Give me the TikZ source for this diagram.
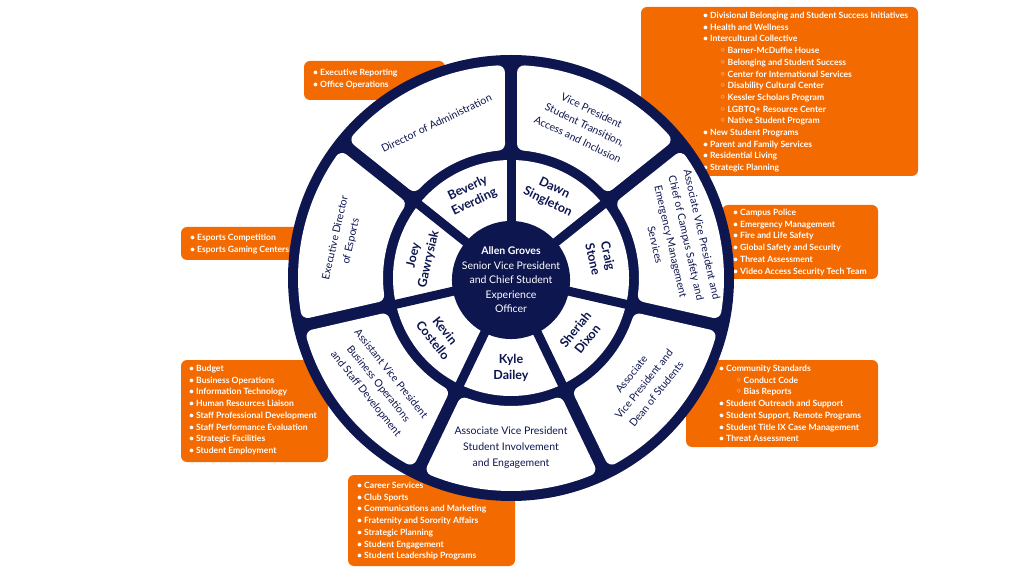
\documentclass[tikz,border=0pt]{standalone}
\usepackage{fontspec}
\setmainfont{Lato}
\newfontfamily\dejavu{DejaVu Sans}
\definecolor{navy}{RGB}{14,22,80}
\definecolor{uvaorange}{RGB}{242,106,0}
\newcommand{\bl}{•\hspace{2pt}}
\newcommand{\sbl}{\hspace*{17pt}{\dejavu ◦}\hspace{2pt}}
\begin{document}
\begin{tikzpicture}[x=1pt,y=1pt,
  box/.style={fill=uvaorange, rounded corners=6pt},
  list/.style={anchor=north west, inner sep=0pt, align=left, text=white, font=\fontsize{8.6}{11.7}\selectfont\bfseries},
  title/.style={text=navy, align=center, inner sep=0pt, font=\fontsize{10.5}{16}\selectfont},
  pname/.style={text=navy, align=center, inner sep=0pt, font=\fontsize{12.5}{15.5}\selectfont\bfseries},
  seg/.style={fill=white, draw=white, line width=14pt, line join=round},
  divider/.style={draw=navy, line width=9pt}]
\useasboundingbox (0,0) rectangle (1024,576);
\fill[white] (0,0) rectangle (1024,576);
% orange boxes
\fill[box] (641,569) rectangle (918,400);
\fill[box] (304,515) rectangle (445,476);
\fill[box] (181,349) rectangle (320,316);
\fill[box] (722,371) rectangle (878,297);
\fill[box] (181,216) rectangle (328,114);
\fill[box] (686,216) rectangle (878,129);
\fill[box] (348,101) rectangle (515,10);
\node[list] (l1) at (703,564) {\bl Divisional Belonging and Student Success Initiatives\\
\bl Health and Wellness\\
\bl Intercultural Collective\\
\sbl Barner-McDuffie House\\
\sbl Belonging and Student Success\\
\sbl Center for International Services\\
\sbl Disability Cultural Center\\
\sbl Kessler Scholars Program\\
\sbl LGBTQ+ Resource Center\\
\sbl Native Student Program\\
\bl New Student Programs\\
\bl Parent and Family Services\\
\bl Residential Living\\
\bl Strategic Planning};
\node[list] (l2) at (313,507) {\bl Executive Reporting\\ \bl Office Operations};
\node[list] (l3) at (190,342) {\bl Esports Competition\\ \bl Esports Gaming Centers};
\node[list] (l4) at (733,367) {\bl Campus Police\\
\bl Emergency Management\\
\bl Fire and Life Safety\\
\bl Global Safety and Security\\
\bl Threat Assessment\\
\bl Video Access Security Tech Team};
\node[list] (l5) at (189,211) {\bl Budget\\
\bl Business Operations\\
\bl Information Technology\\
\bl Human Resources Liaison\\
\bl Staff Professional Development\\
\bl Staff Performance Evaluation\\
\bl Strategic Facilities\\
\bl Student Employment};
\node[list] (l6) at (719,211) {\bl Community Standards\\
\sbl Conduct Code\\
\sbl Bias Reports\\
\bl Student Outreach and Support\\
\bl Student Support, Remote Programs\\
\bl Student Title IX Case Management\\
\bl Threat Assessment};
\node[list] (l7) at (357,94) {\bl Career Services\\
\bl Club Sports\\
\bl Communications and Marketing\\
\bl Fraternity and Sorority Affairs\\
\bl Strategic Planning\\
\bl Student Engagement\\
\bl Student Leadership Programs};
% wheel
\begin{scope}[shift={(511,298)}]
\fill[navy] (0,0) circle[radius=223pt];
\foreach \k in {0,...,6}{
  \pgfmathsetmacro{\da}{90+\k*360/7}
  \pgfmathsetmacro{\db}{\da+360/7}
  \path[seg] (\da+3.64:206pt) arc[start angle=\da+3.64, end angle=\db-3.64, radius=206pt]
    -- (\db-5.53:135pt) arc[start angle=\db-5.53, end angle=\da+5.53, radius=135pt] -- cycle;
}
\fill[white] (0,0) circle[radius=118pt];
\foreach \k in {0,...,6}{
  \draw[divider] (90+\k*360/7:50pt) -- (90+\k*360/7:123pt);
}
\node[circle, fill=navy, minimum size=112pt, inner sep=0pt, text=white, align=center,
  font=\fontsize{10.5}{14.5}\selectfont] (ceo) at (0,-2)
  {\textbf{Allen Groves}\\Senior Vice President\\and Chief Student\\Experience\\Officer};
% names
\node[pname, rotate=25.7] (bev) at (115.7:92pt) {Beverly\\Everding};
\node[pname, rotate=77.1] (joey) at (167.1:92pt) {Joey\\Gawrysiak};
\node[pname, rotate=-51.4] (kevin) at (218.6:92pt) {Kevin\\Costello};
\node[pname] (kyle) at (270:90pt) {Kyle\\Dailey};
\node[pname, rotate=51.4] (sheriah) at (321.4:90pt) {Sheriah\\Dixon};
\node[pname, rotate=-77.1] (craig) at (12.9:92pt) {Craig\\Stone};
\node[pname, rotate=-25.7] (dawn) at (64.3:92pt) {Dawn\\Singleton};
% titles
\node[title, rotate=25.7] (t1) at (115.7:172pt) {Director of Administration};
\node[title, rotate=77.1] (t2) at (167.1:172pt) {Executive Director\\of Esports};
\node[title, rotate=-51.4] (t3) at (218.6:170pt) {Assistant Vice President\\Business Operations\\and Staff Development};
\node[title] (t4) at (270:170pt) {Associate Vice President\\Student Involvement\\and Engagement};
\node[title, rotate=51.4] (t5) at (321.4:170pt) {Associate\\Vice President and\\Dean of Students};
\node[title, rotate=-77.1] (t6) at (12.9:172pt) {Associate Vice President and\\Chief of Campus Safety and\\Emergency Management\\Services};
\node[title, rotate=-25.7] (t7) at (64.3:170pt) {Vice President\\Student Transition,\\Access and Inclusion};
\end{scope}
\end{tikzpicture}
\end{document}
